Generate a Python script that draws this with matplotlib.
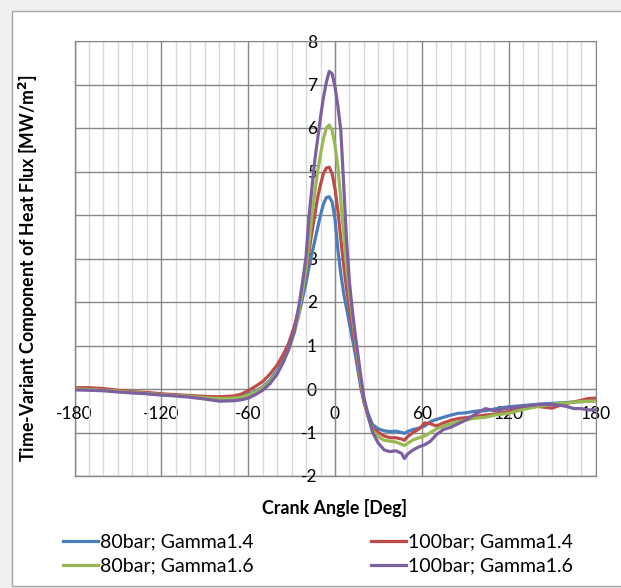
import matplotlib
matplotlib.use("Agg")
import matplotlib.pyplot as plt
from matplotlib.patches import Rectangle
from matplotlib.ticker import MultipleLocator

plt.rcParams['font.family'] = ['Lato', 'DejaVu Sans']
plt.rcParams['axes.unicode_minus'] = False

# crank angle grid (deg)
angle = [-180, -170, -160, -150, -140, -130, -120, -110, -100, -90, -80, -70, -65, -60,
         -55, -50, -45, -40, -36, -32, -28, -25, -22, -20, -18, -16, -14, -12, -10, -8,
         -6, -4, -2, 0, 2, 4, 6, 8, 10, 12, 14, 16, 18, 20, 23, 26, 30, 34, 38, 42, 46,
         48, 50, 54, 58, 62, 66, 70, 75, 80, 85, 90, 95, 100, 104, 110, 115, 120, 130,
         140, 145, 150, 155, 160, 165, 170, 175, 180]

# heat flux, MW/m2
flux_80_14 = [0.0, -0.01, -0.02, -0.05, -0.08, -0.10, -0.13, -0.15, -0.17, -0.19, -0.21, -0.20, -0.17, -0.12,
              -0.05, 0.05, 0.20, 0.42, 0.65, 0.95, 1.35, 1.70, 2.15, 2.45, 2.80, 3.10, 3.40, 3.70, 4.00, 4.25,
              4.40, 4.42, 4.30, 3.90, 3.20, 2.65, 2.20, 1.85, 1.50, 1.15, 0.80, 0.40, 0.00, -0.30, -0.58, -0.82, -0.92, -0.96, -0.98, -0.97, -1.00,
              -1.02, -0.98, -0.93, -0.90, -0.85, -0.75, -0.70, -0.65, -0.60, -0.56, -0.55, -0.52, -0.50, -0.50, -0.46, -0.43, -0.41, -0.38,
              -0.35, -0.34, -0.33, -0.32, -0.31, -0.30, -0.29, -0.28, -0.27]
flux_100_14 = [0.03, 0.03, 0.01, -0.03, -0.06, -0.08, -0.11, -0.13, -0.15, -0.17, -0.18, -0.16, -0.12, -0.04,
               0.06, 0.17, 0.34, 0.55, 0.78, 1.05, 1.45, 1.85, 2.35, 2.70, 3.15, 3.60, 4.00, 4.40, 4.70, 4.95,
               5.08, 5.10, 4.95, 4.60, 4.10, 3.45, 2.85, 2.30, 1.85, 1.40, 1.00, 0.55, 0.10, -0.30, -0.65, -0.90, -1.00, -1.08, -1.12, -1.12, -1.15,
               -1.18, -1.10, -1.00, -0.92, -0.78, -0.80, -0.85, -0.78, -0.72, -0.68, -0.66, -0.64, -0.62, -0.60, -0.58, -0.55, -0.52, -0.45,
               -0.40, -0.42, -0.44, -0.38, -0.33, -0.30, -0.26, -0.22, -0.21]
flux_80_16 = [0.0, -0.01, -0.03, -0.05, -0.08, -0.10, -0.13, -0.15, -0.17, -0.20, -0.22, -0.21, -0.19, -0.14,
              -0.07, 0.03, 0.17, 0.38, 0.60, 0.90, 1.30, 1.75, 2.35, 2.80, 3.35, 3.95, 4.50, 5.00, 5.40, 5.75,
              6.00, 6.07, 5.95, 5.60, 5.10, 4.35, 3.55, 2.80, 2.20, 1.65, 1.15, 0.65, 0.15, -0.25, -0.65, -0.95, -1.10, -1.18, -1.20, -1.22, -1.27,
              -1.30, -1.25, -1.17, -1.12, -1.08, -1.00, -0.92, -0.85, -0.80, -0.75, -0.72, -0.68, -0.66, -0.65, -0.60, -0.58, -0.56, -0.47,
              -0.40, -0.38, -0.35, -0.33, -0.32, -0.30, -0.29, -0.28, -0.28]
flux_100_16 = [-0.02, -0.03, -0.04, -0.07, -0.09, -0.11, -0.14, -0.16, -0.19, -0.23, -0.28, -0.27, -0.25, -0.21,
               -0.13, -0.03, 0.12, 0.34, 0.60, 0.92, 1.35, 1.90, 2.55, 3.05, 3.95, 4.60, 5.25, 5.75, 6.25, 6.70,
               7.05, 7.30, 7.25, 6.95, 6.50, 5.95, 4.70, 3.40, 2.45, 1.80, 1.25, 0.75, 0.25, -0.20, -0.62, -1.00, -1.25, -1.40, -1.44, -1.42, -1.48,
               -1.60, -1.50, -1.40, -1.33, -1.28, -1.20, -1.05, -0.93, -0.88, -0.80, -0.72, -0.62, -0.52, -0.45, -0.50, -0.47, -0.44, -0.40,
               -0.36, -0.35, -0.36, -0.37, -0.40, -0.45, -0.45, -0.48, -0.48]

labels = ["80bar; Gamma1.4", "100bar; Gamma1.4", "80bar; Gamma1.6", "100bar; Gamma1.6"]
colors = ["#4a7ebb", "#be4b48", "#98b954", "#7d60a0"]
series = [flux_80_14, flux_100_14, flux_80_16, flux_100_16]

W, H = 621, 588
fig = plt.figure(figsize=(W / 100, H / 100), dpi=100)
fig.patch.set_facecolor("#efefef")
fig.add_artist(Rectangle((12 / W, 2 / H), 1.0, (H - 13) / H, transform=fig.transFigure,
                         facecolor="white", edgecolor="#a6a6a6", linewidth=1, zorder=0))

ax = fig.add_axes([74.5 / W, (H - 476) / H, 521 / W, 435 / H])
ax.set_facecolor("white")

lines = []
for y, c, lab in zip(series, colors, labels):
    ln, = ax.plot(angle, y, color=c, linewidth=2.3, label=lab, zorder=3, solid_joinstyle="round")
    lines.append(ln)

ax.set_xlim(-180, 180)
ax.set_ylim(-2, 8)
ax.set_xticks([-180, -120, -60, 0, 60, 120, 180])
ax.set_yticks(range(-2, 9))
ax.xaxis.set_minor_locator(MultipleLocator(10))

ax.grid(which="major", color="#878787", linewidth=1)
ax.grid(which="minor", axis="x", color="#d9d9d9", linewidth=1)
ax.set_axisbelow(True)

for s in ["top", "right"]:
    ax.spines[s].set_color("#878787")
ax.spines["left"].set_position(("data", 0))
ax.spines["bottom"].set_position(("data", 0))
ax.spines["left"].set_color("#878787")
ax.spines["bottom"].set_color("#878787")
# plot-area frame on the left and bottom edges
ax.axvline(-180, color="#878787", linewidth=1, clip_on=False, zorder=0.4)
ax.axhline(-2, color="#878787", linewidth=1, clip_on=False, zorder=0.4)

ax.tick_params(which="both", length=0)
ax.tick_params(axis="x", which="major", pad=12, labelsize=12.5)
ax.tick_params(axis="y", which="major", pad=13, labelsize=12.5)

fig.text(335 / W, 1 - 508 / H, "Crank Angle [Deg]", ha="center", va="center",
         fontsize=12.8, fontweight="bold")
fig.text(28 / W, 1 - 268 / H, "Time-Variant Component of Heat Flux [MW/m$^\\mathbf{2}$]",
         ha="center", va="center", rotation=90, fontsize=12.8, fontweight="bold")

order = [0, 2, 1, 3]
fig.legend([lines[i] for i in order], [labels[i] for i in order], ncol=2,
           loc="center", bbox_to_anchor=(318 / W, 1 - 554 / H), frameon=False,
           fontsize=14, handlelength=1.8, handletextpad=0.1, columnspacing=6.0,
           labelspacing=0.35)

fig.savefig("out.png", dpi=100, facecolor=fig.get_facecolor())
